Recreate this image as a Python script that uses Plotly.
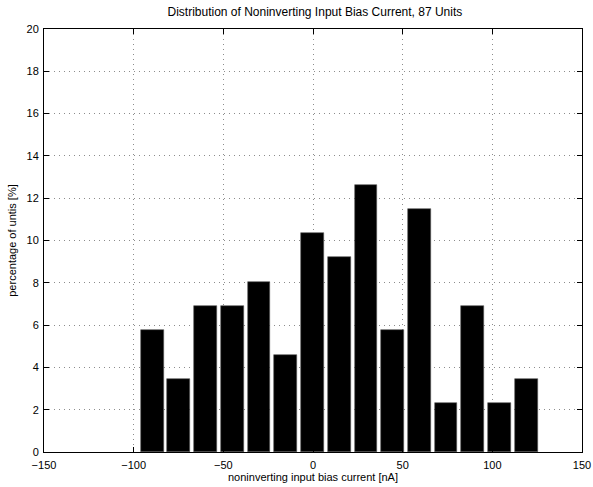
import plotly.graph_objects as go

# bin centres [nA] and bar heights [% of units]
bin_centers = [-89.7, -74.8, -59.9, -45.0, -30.1, -15.2, -0.3, 14.6, 29.5, 44.4,
               59.3, 74.2, 89.1, 104.0, 118.9]
percent = [5.75, 3.45, 6.90, 6.90, 8.05, 4.60, 10.34, 9.20, 12.64, 5.75,
           11.49, 2.30, 6.90, 2.30, 3.45]
x_ticks = [-150, -100, -50, 0, 50, 100, 150]
y_ticks = list(range(0, 21, 2))

title = "Distribution of Noninverting Input Bias Current, 87 Units"
x_label = "noninverting input bias current [nA]"
y_label = "percentage of untis [%]"

font = "Liberation Sans, Arial, Helvetica, sans-serif"

fig = go.Figure(go.Bar(
    x=bin_centers, y=percent, width=12.7,
    marker=dict(color="black", line=dict(color="#555555", width=0.6)),
    hoverinfo="x+y",
))

axis_common = dict(
    showline=True, linecolor="black", linewidth=1, mirror="ticks",
    ticks="inside", ticklen=5, tickcolor="black", tickwidth=1,
    showgrid=True, gridcolor="#8c8c8c", griddash="1px,4px", gridwidth=1,
    zeroline=False, tickfont=dict(size=11, color="black", family=font),
)

fig.update_layout(
    width=593, height=487,
    margin=dict(l=44, r=11, t=29, b=35, autoexpand=False),
    paper_bgcolor="white", plot_bgcolor="white",
    font=dict(family=font, size=11, color="black"),
    title=dict(text=title, x=0.531, xanchor="center", y=0.976, yanchor="middle",
               font=dict(size=12, family=font, color="black")),
    showlegend=False,
    bargap=0,
)
fig.update_xaxes(range=[-150, 150], tickvals=x_ticks, **axis_common,
                 ticklabelstandoff=3,
                 title=dict(text=x_label, standoff=0, font=dict(size=11)))
fig.update_yaxes(range=[0, 20], tickvals=y_ticks, **axis_common,
                 ticklabelstandoff=2,
                 title=dict(text=y_label, standoff=7, font=dict(size=11)))

fig.write_html("out.html")
